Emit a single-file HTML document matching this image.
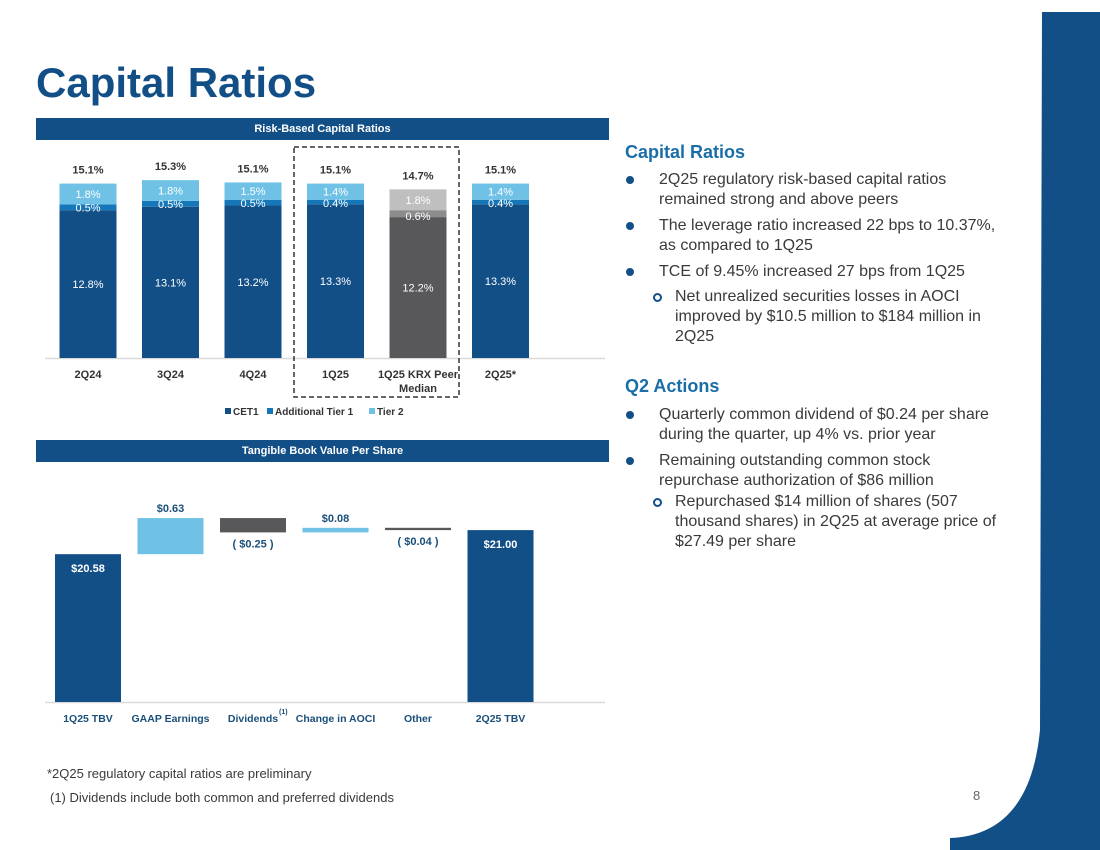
<!DOCTYPE html>
<html><head><meta charset="utf-8"><style>
body{margin:0;width:1100px;height:850px;position:relative;background:#fff;font-family:"Liberation Sans",Arial,sans-serif;overflow:hidden}
.abs{position:absolute}
.hdr{position:absolute;left:36px;width:573px;height:22px;background:#124f87;color:#fff;font-size:11px;font-weight:bold;text-align:center;line-height:22px}
.txt{position:absolute;font-size:16px;color:#3a3a3a;line-height:20px}
.dot{position:absolute;width:8px;height:8px;border-radius:50%;background:#124f87}
.ring{position:absolute;width:5px;height:5px;border-radius:50%;border:2px solid #124f87}
h2{position:absolute;margin:0;font-size:18px;color:#1a6ea8;font-weight:bold}
</style></head><body>
<svg class="abs" style="left:0;top:0" width="1100" height="850">
<path d="M1042 12 L1100 12 L1100 850 L950 850 L950 838 Q1030 835 1040 730 Z" fill="#124f87"/>
</svg>
<div class="abs" style="left:36px;top:59px;font-size:42px;font-weight:bold;color:#124f87">Capital Ratios</div>
<div class="hdr" style="top:118px">Risk-Based Capital Ratios</div>
<div class="hdr" style="top:440px">Tangible Book Value Per Share</div>
<svg class="abs" id="c1" style="left:0;top:0" width="620" height="430"></svg>
<svg class="abs" id="c2" style="left:0;top:460px" width="620" height="280"></svg>

<h2 style="left:625px;top:142px">Capital Ratios</h2>
<div class="dot" style="left:626px;top:176px"></div><div class="txt" style="left:659px;top:170px">2Q25 regulatory risk-based capital ratios<br>remained strong and above peers</div>
<div class="dot" style="left:626px;top:222px"></div><div class="txt" style="left:659px;top:216px">The leverage ratio increased 22 bps to 10.37%,<br>as compared to 1Q25</div>
<div class="dot" style="left:626px;top:268px"></div><div class="txt" style="left:659px;top:262px">TCE of 9.45% increased 27 bps from 1Q25</div>
<div class="ring" style="left:653px;top:293px"></div><div class="txt" style="left:675px;top:287px">Net unrealized securities losses in AOCI<br>improved by $10.5 million to $184 million in<br>2Q25</div>
<h2 style="left:625px;top:376px">Q2 Actions</h2>
<div class="dot" style="left:626px;top:411px"></div><div class="txt" style="left:659px;top:405px">Quarterly common dividend of $0.24 per share<br>during the quarter, up 4% vs. prior year</div>
<div class="dot" style="left:626px;top:457px"></div><div class="txt" style="left:659px;top:451px">Remaining outstanding common stock<br>repurchase authorization of $86 million</div>
<div class="ring" style="left:653px;top:498px"></div><div class="txt" style="left:675px;top:492px">Repurchased $14 million of shares (507<br>thousand shares) in 2Q25 at average price of<br>$27.49 per share</div>

<div class="abs" style="left:47px;top:766px;font-size:13px;color:#3a3a3a">*2Q25 regulatory capital ratios are preliminary</div>
<div class="abs" style="left:50px;top:790px;font-size:13px;color:#3a3a3a">(1) Dividends include both common and preferred dividends</div>
<div class="abs" style="left:973px;top:788px;font-size:13px;color:#666">8</div>

<script>
const NS="http://www.w3.org/2000/svg";
const cats1=["2Q24","3Q24","4Q24","1Q25","1Q25 KRX Peer|Median","2Q25*"];
const cet1=[12.8,13.1,13.2,13.3,12.2,13.3];
const at1=[0.5,0.5,0.5,0.4,0.6,0.4];
const tier2=[1.8,1.8,1.5,1.4,1.8,1.4];
const totals=["15.1%","15.3%","15.1%","15.1%","14.7%","15.1%"];
const peerIdx=4;
function el(svg,tag,a,txt){const e=document.createElementNS(NS,tag);for(const k in a)e.setAttribute(k,a[k]);if(txt!=null)e.textContent=txt;svg.appendChild(e);return e;}
const c1=document.getElementById("c1");
const base1=358,sc1=11.55;const cx=i=>88+i*82.5;const y1=v=>base1-v*sc1;
el(c1,"line",{x1:45,x2:605,y1:base1+0.5,y2:base1+0.5,stroke:"#d9d9d9","stroke-width":1.5});
cats1.forEach((c,i)=>{
 const peer=i===peerIdx;
 const cols=peer?["#58585a","#8c8c8c","#bfbfbf"]:["#124f87","#1677b8","#6fc2e6"];
 const segs=[cet1[i],at1[i],tier2[i]];let acc=0;
 segs.forEach((v,j)=>{const r=el(c1,"rect",{x:cx(i)-28.5,width:57,y:y1(acc+v),height:v*sc1,fill:cols[j]});
  
  acc+=v;});
 const w="#fff";
 el(c1,"text",{x:cx(i),y:(y1(0)+y1(cet1[i]))/2+4,"text-anchor":"middle","font-size":11,fill:w},cet1[i].toFixed(1)+"%");
 el(c1,"text",{x:cx(i),y:y1(cet1[i]+at1[i])+(peer?10:7),"text-anchor":"middle","font-size":11,fill:w},at1[i].toFixed(1)+"%");
 el(c1,"text",{x:cx(i),y:y1(cet1[i]+at1[i]+tier2[i]/2)+4,"text-anchor":"middle","font-size":11,fill:w},tier2[i].toFixed(1)+"%");
 el(c1,"text",{x:cx(i),y:y1(acc)-10,"text-anchor":"middle","font-size":11,"font-weight":"bold",fill:"#333"},totals[i]);
 c.split("|").forEach((p,k)=>el(c1,"text",{x:cx(i),y:378+k*14,"text-anchor":"middle","font-size":11,"font-weight":"bold",fill:"#333"},p));
});
el(c1,"rect",{x:294,y:147,width:165,height:250,fill:"none",stroke:"#333","stroke-width":1.5,"stroke-dasharray":"5,3"});
[["CET1","#124f87",233],["Additional Tier 1","#1677b8",275],["Tier 2","#6fc2e6",377]].forEach(l=>{
 el(c1,"rect",{x:l[2]-8,y:408,width:6,height:6,fill:l[1]});
 el(c1,"text",{x:l[2],y:415,"font-size":10,"font-weight":"bold",fill:"#333"},l[0]);});

const cats2=["1Q25 TBV","GAAP Earnings","Dividends","Change in AOCI","Other","2Q25 TBV"];
const deltas=[20.58,0.63,-0.25,0.08,-0.04,21.00];
const labels2=["$20.58","$0.63","( $0.25 )","$0.08","( $0.04 )","$21.00"];
const c2=document.getElementById("c2");
const base2=242,sc2=57.3,vmin=18;const y2=v=>base2-(v-vmin)*sc2;
el(c2,"line",{x1:45,x2:605,y1:base2+0.5,y2:base2+0.5,stroke:"#d9d9d9","stroke-width":1.5});
let run=0;
deltas.forEach((d,i)=>{
 let lo,hi,col;
 if(i===0||i===deltas.length-1){lo=vmin;hi=d;col="#124f87";run=d;}
 else{const s=run;run=s+d;lo=Math.min(s,run);hi=Math.max(s,run);col=d>0?"#6fc2e6":"#58585a";}
 const r=el(c2,"rect",{x:cx(i)-33,width:66,y:y2(hi),height:Math.max((hi-lo)*sc2,1),fill:col});
 
 
 let ty,fc="#1a4f7a";
 if(i===0||i===deltas.length-1){ty=y2(hi)+18;fc="#fff";}
 else if(d>0)ty=y2(hi)-6;else ty=y2(lo)+15;
 el(c2,"text",{x:cx(i),y:ty,"text-anchor":"middle","font-size":11,"font-weight":"bold",fill:fc},labels2[i]);
 el(c2,"text",{x:cx(i),y:262,"text-anchor":"middle","font-size":10.5,"font-weight":"bold",fill:"#1a4f7a"},cats2[i]);
});
el(c2,"text",{x:279,y:254,"font-size":7,"font-weight":"bold",fill:"#1a4f7a"},"(1)");
</script>
</body></html>
